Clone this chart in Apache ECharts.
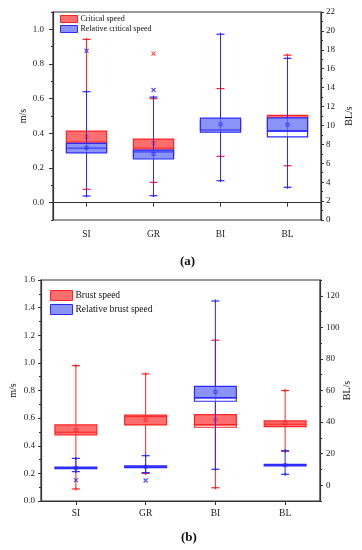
<!DOCTYPE html>
<html><head><meta charset="utf-8">
<script src="https://cdn.jsdelivr.net/npm/echarts@6/dist/echarts.min.js"></script>
<style>html,body{margin:0;padding:0;background:#fff}#c{width:362px;height:550px}</style>
</head><body><div id="c"></div>
<script>
const categories = ['SI', 'GR', 'BI', 'BL'];
// each row: [min, q1, median, q3, max, mean]
const critSpeed = [
  [0.077, 0.30, 0.35, 0.413, 0.942, 0.379],
  [0.117, 0.27, 0.315, 0.367, 0.60, 0.344],
  [0.267, 0.42, 0.44, 0.47, 0.658, 0.45],
  [0.213, 0.42, 0.46, 0.504, 0.851, 0.47]
];
const critSpeedOutliers = [[1, 0.86]];
const relCritSpeed = [
  [2.54, 7.1, 7.6, 8.1, 13.57, 7.65],
  [2.57, 6.45, 7.2, 7.4, 13.0, 6.98],
  [4.16, 9.28, 9.52, 10.77, 19.65, 10.12],
  [3.46, 8.8, 9.4, 10.8, 17.1, 10.09]
];
const relCritOutliers = [[0, 17.9], [1, 13.75]];
const burstSpeed = [
  [0.087, 0.478, 0.498, 0.551, 0.98, 0.514],
  [0.20, 0.551, 0.611, 0.621, 0.92, 0.587],
  [0.096, 0.534, 0.551, 0.625, 1.164, 0.589],
  [0.36, 0.539, 0.556, 0.58, 0.80, 0.563]
];
const burstOutliers = [];
const relBurstSpeed = [
  [8.6, 10.5, 11.0, 11.5, 17.0, 11.0],
  [8.0, 11.2, 11.7, 12.2, 18.7, 11.7],
  [10.1, 53.2, 55.3, 62.6, 116.7, 59.1],
  [6.9, 12.2, 12.7, 13.2, 21.9, 12.7]
];
const relBurstOutliers = [[0, 3.2], [1, 3.0]];
const aLeftTicks = [0, 0.2, 0.4, 0.6, 0.8, 1.0];
const aLeftMinor = [-0.1, 0.1, 0.3, 0.5, 0.7, 0.9, 1.1];
const bRightTicks = [0, 20, 40, 60, 80, 100, 120];
const bRightMinor = [-10, 10, 30, 50, 70, 90, 110, 130];

// style only
const hollowLower = {
  crit: [false, false, false, false],
  relCrit: [false, false, false, true],
  burst: [false, false, true, false],
  relBurst: [false, false, true, false]
};
const RED = {stroke: '#ff2424', fill: '#ff6e6e'};
const BLUE = {stroke: '#2a2aff', fill: '#8a94f6'};
const FONT = 'Liberation Serif, Times New Roman, serif';

function boxSeries(name, data, col, hollow, xi, yi) {
  return {
    type: 'custom', name: name, xAxisIndex: xi, yAxisIndex: yi,
    data: data.map((d, i) => [i].concat(d)),
    clip: false,
    renderItem: function (params, api) {
      const i = api.value(0);
      const mn = api.value(1), q1 = api.value(2), md = api.value(3), q3 = api.value(4), mx = api.value(5), mean = api.value(6);
      const bw = api.size([1, 0])[0] * 0.6;
      const cx = api.coord([i, md])[0];
      const yMn = api.coord([i, mn])[1], yQ1 = api.coord([i, q1])[1], yMd = api.coord([i, md])[1];
      const yQ3 = api.coord([i, q3])[1], yMx = api.coord([i, mx])[1], yMean = api.coord([i, mean])[1];
      const cap = 4;
      const ln = (x1, y1, x2, y2, w, op) => ({type: 'line', shape: {x1, y1, x2, y2}, style: {stroke: col.stroke, lineWidth: w || 1, opacity: op == null ? 1 : op}});
      const ch = [];
      ch.push(ln(cx, yMx, cx, yQ3, 1));
      ch.push(ln(cx, yQ1, cx, yMn, 1));
      ch.push(ln(cx - cap, yMx, cx + cap, yMx, 1.2));
      ch.push(ln(cx - cap, yMn, cx + cap, yMn, 1.2));
      ch.push(ln(cx, yMx - 1.5, cx, yMx + 1.5, 1.2));
      ch.push(ln(cx, yMn - 1.5, cx, yMn + 1.5, 1.2));
      if (hollow[i]) {
        ch.push({type: 'rect', shape: {x: cx - bw / 2, y: yQ3, width: bw, height: yMd - yQ3}, style: {fill: col.fill, stroke: col.stroke, lineWidth: 1.2}});
        ch.push({type: 'rect', shape: {x: cx - bw / 2, y: yMd, width: bw, height: yQ1 - yMd}, style: {fill: '#fff', stroke: col.stroke, lineWidth: 1.2}});
      } else {
        ch.push({type: 'rect', shape: {x: cx - bw / 2, y: yQ3, width: bw, height: Math.max(yQ1 - yQ3, 1)}, style: {fill: col.fill, stroke: col.stroke, lineWidth: 1.2}});
      }
      ch.push(ln(cx, yQ3, cx, yQ1, 1, 0.45));
      ch.push(ln(cx - bw / 2, yMd, cx + bw / 2, yMd, 1));
      ch.push({type: 'rect', shape: {x: cx - 1.5, y: yMean - 1.5, width: 3, height: 3}, style: {fill: 'none', stroke: col.stroke, lineWidth: 0.8}});
      return {type: 'group', children: ch};
    }
  };
}
const xMark = 'path://M0,0L10,10M10,0L0,10';
function outlierSeries(name, data, col, xi, yi) {
  return {
    type: 'scatter', name: name, xAxisIndex: xi, yAxisIndex: yi, data: data,
    symbol: xMark, symbolSize: 4,
    itemStyle: {color: 'none', borderColor: col.stroke, borderWidth: 1.2}
  };
}

const lbl = {fontFamily: FONT, fontSize: 9, color: '#222'};
function yAx(o) {
  return Object.assign({
    type: 'value', splitLine: {show: false},
    axisLine: {show: true, lineStyle: {color: '#333', width: 1.2}},
    axisTick: {show: true, inside: false, length: 4, lineStyle: {color: '#333'}},
    axisLabel: Object.assign({}, lbl),
    nameLocation: 'middle', nameRotate: 90, nameMoveOverlap: false,
    nameTextStyle: {fontFamily: FONT, fontSize: 10, color: '#111'}
  }, o);
}
function xAx(o) {
  return Object.assign({
    type: 'category', data: categories, boundaryGap: true,
    axisLine: {show: true, lineStyle: {color: '#333', width: 1.2}},
    axisTick: {show: true, alignWithLabel: true, length: 4, lineStyle: {color: '#333'}},
    axisLabel: Object.assign({}, lbl, {fontSize: 9.5})
  }, o);
}

const chart = echarts.init(document.getElementById('c'));
chart.setOption({
  animation: false,
  grid: [
    {left: 53, top: 12, width: 274, height: 208, show: true, borderColor: '#333', borderWidth: 1.2, containLabel: false},
    {left: 39, top: 280, width: 281, height: 221, show: true, borderColor: '#333', borderWidth: 1.2, containLabel: false}
  ],
  xAxis: [xAx({gridIndex: 0, axisLabel: Object.assign({}, lbl, {fontSize: 9.5, margin: 9})}),
          xAx({gridIndex: 1, axisLabel: Object.assign({}, lbl, {fontSize: 9.5, margin: 7})})],
  yAxis: [
    yAx({gridIndex: 0, position: 'left', min: -0.1, max: 1.1, name: 'm/s', nameGap: 25,
      axisTick: {show: true, length: 4, customValues: aLeftTicks, lineStyle: {color: '#333'}},
      axisLabel: Object.assign({}, lbl, {customValues: aLeftTicks, margin: 9, formatter: v => v.toFixed(1)})}),
    yAx({gridIndex: 0, position: 'right', min: 0, max: 22, interval: 2, name: 'BL/s', nameGap: 23,
      minorTick: {show: true, splitNumber: 2, length: 2, lineStyle: {color: '#333'}},
      axisTick: {show: true, length: 3, lineStyle: {color: '#333'}},
      axisLabel: Object.assign({}, lbl, {margin: 5})}),
    yAx({gridIndex: 1, position: 'left', min: 0, max: 1.6, interval: 0.2, name: 'm/s', nameGap: 23,
      minorTick: {show: true, splitNumber: 2, length: 2, lineStyle: {color: '#333'}},
      axisTick: {show: true, length: 3, lineStyle: {color: '#333'}},
      axisLabel: Object.assign({}, lbl, {margin: 6, formatter: v => v.toFixed(1)})}),
    yAx({gridIndex: 1, position: 'right', min: -10, max: 130, name: 'BL/s', nameGap: 22,
      axisTick: {show: true, length: 3, customValues: bRightTicks, lineStyle: {color: '#333'}},
      axisLabel: Object.assign({}, lbl, {customValues: bRightTicks, margin: 6})}),
    yAx({gridIndex: 0, position: 'left', min: -0.1, max: 1.1, axisLine: {show: false},
      axisTick: {show: true, length: 2, customValues: aLeftMinor, lineStyle: {color: '#333'}},
      axisLabel: {show: false}}),
    yAx({gridIndex: 1, position: 'right', min: -10, max: 130, axisLine: {show: false},
      axisTick: {show: true, length: 2, customValues: bRightMinor, lineStyle: {color: '#333'}},
      axisLabel: {show: false}})
  ],
  legend: [
    {orient: 'vertical', left: 60, top: 15, padding: 0, itemWidth: 17, itemHeight: 7, itemGap: 2, selectedMode: false,
     textStyle: {fontFamily: FONT, fontSize: 8, color: '#111', padding: [0, 0, 0, -2]},
     data: [{name: 'Critical speed', icon: 'rect', itemStyle: {color: RED.fill, borderColor: RED.stroke, borderWidth: 1}},
            {name: 'Relative critical speed', icon: 'rect', itemStyle: {color: BLUE.fill, borderColor: BLUE.stroke, borderWidth: 1}}]},
    {orient: 'vertical', left: 50, top: 290, padding: 0, itemWidth: 22, itemHeight: 10, itemGap: 3, selectedMode: false,
     textStyle: {fontFamily: FONT, fontSize: 9.5, color: '#111', padding: [0, 0, 0, -2]},
     data: [{name: 'Brust speed', icon: 'rect', itemStyle: {color: RED.fill, borderColor: RED.stroke, borderWidth: 1}},
            {name: 'Relative brust speed', icon: 'rect', itemStyle: {color: BLUE.fill, borderColor: BLUE.stroke, borderWidth: 1}}]}
  ],
  graphic: [
    {type: 'text', left: 180, top: 255, style: {text: '(a)', fontFamily: FONT, fontWeight: 'bold', fontSize: 13, fill: '#111'}},
    {type: 'text', left: 181, top: 531, style: {text: '(b)', fontFamily: FONT, fontWeight: 'bold', fontSize: 13, fill: '#111'}}
  ],
  series: [
    boxSeries('Critical speed', critSpeed, RED, hollowLower.crit, 0, 0),
    outlierSeries('Critical speed outliers', critSpeedOutliers, RED, 0, 0),
    boxSeries('Relative critical speed', relCritSpeed, BLUE, hollowLower.relCrit, 0, 1),
    outlierSeries('Relative critical speed outliers', relCritOutliers, BLUE, 0, 1),
    boxSeries('Brust speed', burstSpeed, RED, hollowLower.burst, 1, 2),
    outlierSeries('Brust speed outliers', burstOutliers, RED, 1, 2),
    boxSeries('Relative brust speed', relBurstSpeed, BLUE, hollowLower.relBurst, 1, 3),
    outlierSeries('Relative brust speed outliers', relBurstOutliers, BLUE, 1, 3)
  ]
});
</script></body></html>
